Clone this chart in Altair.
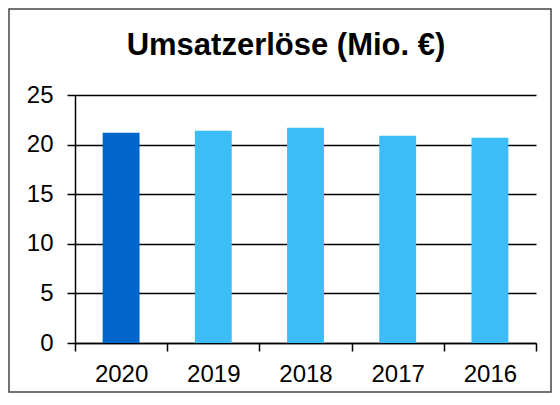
import altair as alt
import pandas as pd

years = ["2020", "2019", "2018", "2017", "2016"]
revenue = [21.2, 21.4, 21.7, 20.9, 20.7]
y_ticks = [0, 5, 10, 15, 20, 25]
title_text = "Umsatzerlöse (Mio. €)"

df = pd.DataFrame({"Jahr": years, "Umsatz": revenue})

FONT = "Liberation Sans"
W, H = 461, 248
PAD_L, PAD_T, PAD_R, PAD_B = 67, 87, 16, 50

bars = alt.Chart(df).mark_bar(width=alt.RelativeBandSize(0.4)).encode(
    x=alt.X(
        "Jahr:N",
        sort=years,
        title=None,
        scale=alt.Scale(paddingInner=0, paddingOuter=0),
        axis=alt.Axis(
            labelAngle=0,
            labelFont=FONT,
            labelFontSize=24,
            labelColor="#000000",
            labelPadding=11,
            tickBand="extent",
            tickSize=8,
            tickColor="#000000",
            tickWidth=1.5,
            domainColor="#000000",
            domainWidth=1.5,
            grid=False,
        ),
    ),
    y=alt.Y(
        "Umsatz:Q",
        title=None,
        scale=alt.Scale(domain=[0, 25], nice=False),
        axis=alt.Axis(
            values=y_ticks,
            labelFont=FONT,
            labelFontSize=24,
            labelColor="#000000",
            labelPadding=14,
            tickSize=8,
            tickColor="#000000",
            tickWidth=1.5,
            domainColor="#000000",
            domainWidth=1.5,
            grid=True,
            gridColor="#000000",
            gridWidth=1.5,
            gridOpacity=1,
        ),
    ),
    color=alt.condition(
        alt.datum.Jahr == "2020", alt.value("#0066CC"), alt.value("#3CBDF8")
    ),
)

title = alt.Chart(df).transform_filter(alt.datum.Jahr == years[0]).mark_text(
    text=title_text,
    font=FONT,
    fontSize=31,
    fontWeight="bold",
    color="#000000",
    align="center",
    baseline="alphabetic",
).encode(
    x=alt.value(211),
    y=alt.value(-40),
)

border = alt.Chart(df).transform_filter(alt.datum.Jahr == years[0]).mark_rect(
    fill=None, stroke="#444444", strokeWidth=1.5
).encode(
    x=alt.value(-PAD_L + 1),
    x2=alt.value(W + PAD_R - 1),
    y=alt.value(-PAD_T + 1),
    y2=alt.value(H + PAD_B - 1),
)

chart = alt.layer(bars, title, border).properties(
    width=W,
    height=H,
    autosize=alt.AutoSizeParams(type="none"),
    padding={"left": PAD_L, "top": PAD_T, "right": PAD_R, "bottom": PAD_B},
).configure_view(stroke=None)

chart.save("out.html", embed_options={"renderer": "svg", "actions": False})
